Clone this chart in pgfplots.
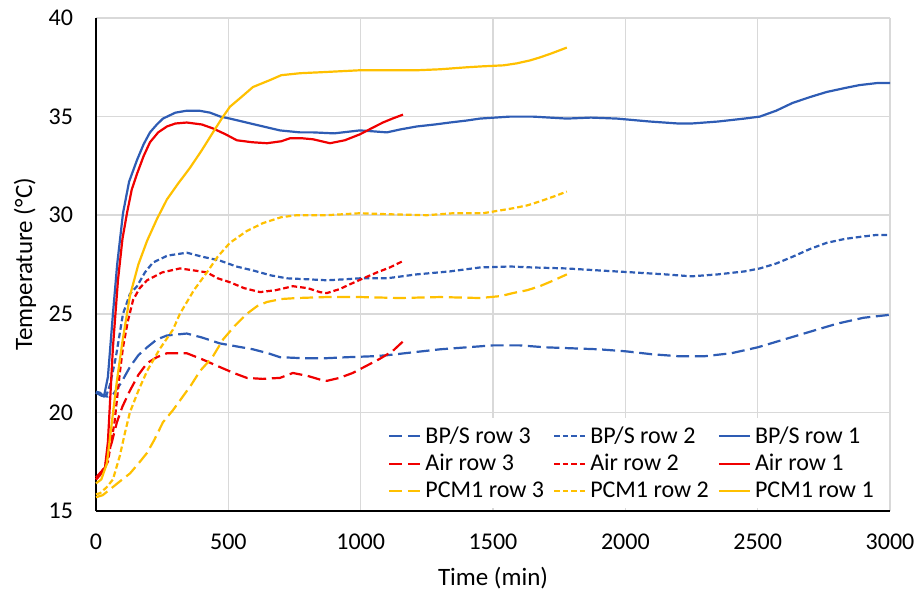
\documentclass[border=0pt]{standalone}
\usepackage{pgfplots}
\pgfplotsset{compat=1.18}
\usepackage{fontspec}
\setmainfont{Carlito}
\definecolor{cblue}{RGB}{46,92,180}
\definecolor{cred}{RGB}{240,0,0}
\definecolor{corange}{RGB}{255,192,0}
\definecolor{cgrid}{RGB}{217,217,217}
\begin{document}
\begin{tikzpicture}
\begin{axis}[
  at={(0pt,0pt)}, anchor=south west,
  scale only axis, width=397pt, height=246.5pt,
  xmin=0, xmax=3000, ymin=15, ymax=40,
  xtick={0,500,...,3000}, ytick={15,20,...,40},
  axis x line*=bottom, axis y line*=left,
  axis line style={line width=1pt, black, -},
  major tick length=0pt,
  grid=major, major grid style={cgrid, line width=0.75pt},
  /pgf/number format/assume math mode=true,
  /pgf/number format/1000 sep={},
  tick label style={font=\fontsize{12}{14}\selectfont},
  xticklabel style={yshift=-8pt},
  yticklabel style={xshift=-8pt},
  xlabel={Time (min)}, ylabel={Temperature (°C)},
  label style={font=\fontsize{12.5}{15}\selectfont},
  xlabel style={at={(axis description cs:0.5,-0.136)}, anchor=center},
  ylabel style={at={(axis description cs:-0.0894,0.5)}, anchor=center},
  legend columns=3,
  legend cell align=left,
  legend style={draw=none, fill=white, font=\fontsize{12}{13.5}\selectfont,
    at={(rel axis cs:0.99,0.005)}, anchor=south east, inner sep=2pt,
    /tikz/every even column/.append style={column sep=2.5pt}},
  legend image code/.code={\draw[#1] (0pt,0pt) -- (15.5pt,0pt);},
  every axis plot/.append style={line width=1.1pt, line join=round},
  clip=false,
]
\addplot[cblue, dash pattern=on 6.5pt off 2.8pt] coordinates {(0,21.0) (20,20.85) (45,20.8) (64,20.9) (95,21.5) (128,22.3) (160,22.9) (193,23.3) (230,23.7) (268,23.9) (343,24.0) (400,23.8) (468,23.5) (530,23.35) (593,23.2) (650,23.0) (695,22.8) (780,22.75) (872,22.75) (950,22.8) (1050,22.85) (1100,22.9) (1200,23.05) (1300,23.2) (1400,23.3) (1500,23.4) (1600,23.4) (1700,23.3) (1800,23.25) (1900,23.2) (2000,23.1) (2100,22.95) (2200,22.85) (2300,22.85) (2400,23.0) (2500,23.3) (2600,23.7) (2700,24.1) (2800,24.5) (2900,24.8) (3000,24.95)};
\addlegendentry{BP/S row 3}
\addplot[cblue, dash pattern=on 2.8pt off 1.5pt] coordinates {(0,21.0) (20,20.9) (40,20.9) (53,21.4) (75,22.8) (102,25.0) (128,26.0) (155,26.4) (185,27.1) (215,27.6) (270,27.95) (343,28.1) (400,27.9) (468,27.7) (530,27.4) (593,27.2) (660,26.95) (721,26.8) (800,26.75) (872,26.7) (940,26.75) (997,26.8) (1099,26.8) (1212,27.0) (1337,27.15) (1451,27.35) (1564,27.4) (1650,27.35) (1779,27.3) (1900,27.2) (2029,27.1) (2150,27.0) (2250,26.9) (2350,27.0) (2450,27.15) (2508,27.3) (2570,27.55) (2633,27.9) (2700,28.3) (2761,28.6) (2830,28.8) (2886,28.9) (2950,29.0) (3000,29.0)};
\addlegendentry{BP/S row 2}
\addplot[cblue] coordinates {(0,21.05) (15,21.0) (30,20.8) (45,21.8) (64,25.0) (80,27.5) (102,30.1) (125,31.7) (155,32.8) (180,33.6) (204,34.2) (230,34.6) (253,34.9) (300,35.2) (343,35.3) (390,35.3) (431,35.2) (470,35.0) (506,34.9) (600,34.6) (695,34.3) (771,34.2) (820,34.2) (900,34.15) (997,34.3) (1050,34.25) (1099,34.2) (1150,34.35) (1212,34.5) (1280,34.6) (1337,34.7) (1400,34.8) (1451,34.9) (1564,35.0) (1650,35.0) (1779,34.9) (1870,34.95) (1968,34.9) (2093,34.75) (2200,34.65) (2250,34.65) (2350,34.75) (2450,34.9) (2508,35.0) (2570,35.3) (2633,35.7) (2700,36.0) (2761,36.25) (2830,36.45) (2886,36.6) (2950,36.7) (3000,36.7)};
\addlegendentry{BP/S row 1}
\addplot[cred, dash pattern=on 6.5pt off 2.8pt] coordinates {(0,16.6) (20,16.9) (41,17.6) (60,18.5) (79,19.5) (100,20.3) (128,21.1) (160,21.9) (193,22.5) (230,22.8) (268,23.0) (343,23.0) (400,22.7) (468,22.3) (520,22.0) (570,21.75) (630,21.7) (695,21.75) (744,22.0) (800,21.85) (850,21.65) (872,21.6) (920,21.75) (970,22.0) (1020,22.35) (1070,22.7) (1120,23.1) (1160,23.6)};
\addlegendentry{Air row 3}
\addplot[cred, dash pattern=on 2.8pt off 1.5pt] coordinates {(0,16.6) (20,16.9) (45,17.5) (70,19.5) (90,22.0) (102,23.3) (120,24.6) (140,25.7) (165,26.3) (193,26.7) (250,27.1) (317,27.3) (370,27.2) (419,27.1) (460,26.8) (506,26.6) (560,26.3) (620,26.1) (680,26.2) (744,26.4) (800,26.3) (846,26.1) (872,26.05) (920,26.25) (960,26.5) (1010,26.8) (1062,27.1) (1110,27.35) (1156,27.65)};
\addlegendentry{Air row 2}
\addplot[cred] coordinates {(0,16.7) (20,17.0) (34,17.2) (45,18.5) (64,23.3) (83,26.7) (100,28.8) (117,30.1) (135,31.3) (155,32.1) (180,33.0) (204,33.7) (235,34.2) (268,34.5) (300,34.65) (343,34.7) (400,34.6) (442,34.4) (490,34.1) (532,33.8) (590,33.7) (646,33.65) (700,33.75) (733,33.9) (780,33.9) (820,33.85) (884,33.65) (940,33.8) (997,34.1) (1040,34.4) (1084,34.7) (1120,34.9) (1160,35.1)};
\addlegendentry{Air row 1}
\addplot[corange, dash pattern=on 6.5pt off 2.8pt] coordinates {(0,15.7) (25,15.8) (53,16.1) (90,16.5) (128,16.9) (160,17.4) (193,17.95) (220,18.6) (253,19.5) (290,20.1) (317,20.6) (360,21.4) (393,22.1) (440,22.8) (480,23.7) (525,24.4) (570,25.0) (610,25.4) (646,25.6) (700,25.75) (759,25.8) (872,25.85) (997,25.85) (1148,25.8) (1300,25.85) (1451,25.8) (1530,25.9) (1575,26.05) (1630,26.2) (1677,26.4) (1730,26.7) (1779,27.0)};
\addlegendentry{PCM1 row 3}
\addplot[corange, dash pattern=on 2.8pt off 1.5pt] coordinates {(0,15.85) (15,15.9) (40,16.2) (64,16.6) (90,17.8) (110,19.0) (128,20.0) (160,21.1) (193,22.1) (240,23.2) (291,24.2) (317,25.0) (370,26.2) (419,27.1) (460,27.9) (506,28.6) (570,29.2) (631,29.6) (700,29.9) (759,30.0) (872,30.0) (997,30.1) (1100,30.05) (1250,30.0) (1350,30.1) (1462,30.1) (1575,30.35) (1630,30.5) (1677,30.7) (1730,30.95) (1779,31.2)};
\addlegendentry{PCM1 row 2}
\addplot[corange] coordinates {(0,16.4) (20,16.6) (41,17.4) (60,19.5) (79,21.6) (100,23.6) (128,25.9) (160,27.5) (193,28.7) (230,29.8) (268,30.8) (310,31.6) (355,32.4) (400,33.3) (442,34.2) (475,34.9) (506,35.5) (550,36.0) (593,36.5) (657,36.85) (700,37.1) (771,37.2) (850,37.25) (997,37.35) (1100,37.35) (1212,37.35) (1300,37.4) (1400,37.5) (1462,37.55) (1540,37.6) (1590,37.7) (1640,37.85) (1677,38.0) (1720,38.2) (1779,38.5)};
\addlegendentry{PCM1 row 1}
\end{axis}
\pgfresetboundingbox
\path (-48pt,-42.5pt) rectangle (411.5pt,255.5pt);
\end{tikzpicture}
\end{document}
